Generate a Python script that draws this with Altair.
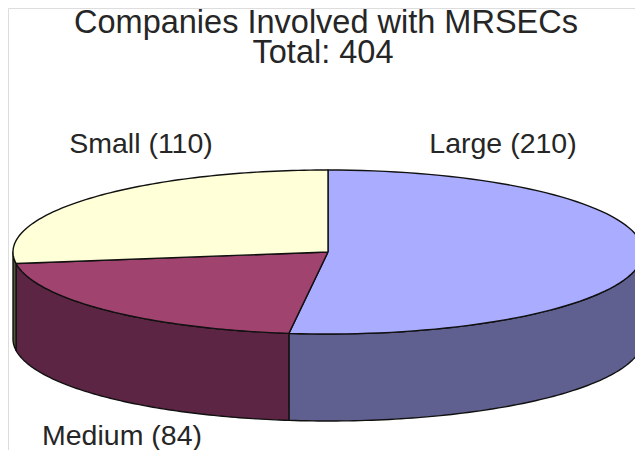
import altair as alt
import pandas as pd

# ---- data ----
categories = ["Large", "Medium", "Small"]
counts = [210, 84, 110]
labels = ["Large (210)", "Medium (84)", "Small (110)"]
title_lines = ["Companies Involved with MRSECs", "Total: 404"]

top_colors = ["#A9ACFF", "#A0446F", "#FFFFD8"]
side_colors = ["#606090", "#5C2543", "#55553A"]

# ---- layout constants (pixels) ----
W, H = 627, 442
CX, CY = 320, 244      # centre of top ellipse
RX, RY = 315, 82       # radii of top ellipse
DEPTH = 87             # thickness of the pie
N = 90                 # points per arc

df = pd.DataFrame({"cat": categories, "value": counts, "order": list(range(len(categories)))})

xs = alt.Scale(domain=[0, W], range=[0, W], nice=False, zero=False)
ys = alt.Scale(domain=[0, H], range=[0, H], nice=False, zero=False)

face_domain = [c + " top" for c in categories] + [c + " side" for c in categories]
face_range = top_colors + side_colors
fill_scale = alt.Scale(domain=face_domain, range=face_range)

base = (
    alt.Chart(df)
    .transform_joinaggregate(total="sum(value)")
    .transform_window(cum="sum(value)", sort=[alt.SortField("order")], frame=[None, 0])
    .transform_calculate(
        a0="PI/2 - 2*PI*(datum.cum - datum.value)/datum.total",
        a1="PI/2 - 2*PI*datum.cum/datum.total",
    )
)

# visible side walls (front half: angles between -PI and 0)
sides = (
    base.transform_calculate(
        s_hi="min(datum.a0, 0)",
        s_lo="max(datum.a1, -PI)",
    )
    .transform_filter("datum.s_hi > datum.s_lo")
    .transform_calculate(k=f"sequence(0, {2 * N + 3})")
    .transform_flatten(["k"])
    .transform_calculate(
        kk=f"datum.k == {2 * N + 2} ? 0 : datum.k",
    )
    .transform_calculate(
        t=f"datum.kk <= {N} ? datum.kk/{N} : ({2 * N + 1} - datum.kk)/{N}",
        dy=f"datum.kk <= {N} ? 0 : {DEPTH}",
    )
    .transform_calculate(
        ang="datum.s_hi + (datum.s_lo - datum.s_hi)*datum.t",
    )
    .transform_calculate(
        px=f"{CX} + {RX}*cos(datum.ang)",
        py=f"{CY} - {RY}*sin(datum.ang) + datum.dy",
        face="datum.cat + ' side'",
    )
    .mark_line(stroke="#111111", strokeWidth=1.4, interpolate="linear", strokeJoin="round")
    .encode(
        x=alt.X("px:Q", scale=xs, axis=None),
        y=alt.Y("py:Q", scale=ys, axis=None),
        fill=alt.Fill("face:N", scale=fill_scale, legend=None),
        detail="cat:N",
        order=alt.Order("k:Q"),
    )
)

# top faces
tops = (
    base.transform_calculate(k=f"sequence(0, {N + 3})")
    .transform_flatten(["k"])
    .transform_calculate(
        t=f"(datum.k - 1)/{N}",
    )
    .transform_calculate(
        ang="datum.a0 + (datum.a1 - datum.a0)*datum.t",
    )
    .transform_calculate(
        px=f"(datum.k == 0 || datum.k == {N + 2}) ? {CX} : {CX} + {RX}*cos(datum.ang)",
        py=f"(datum.k == 0 || datum.k == {N + 2}) ? {CY} : {CY} - {RY}*sin(datum.ang)",
        face="datum.cat + ' top'",
    )
    .mark_line(stroke="#111111", strokeWidth=1.4, interpolate="linear", strokeJoin="round")
    .encode(
        x=alt.X("px:Q", scale=xs, axis=None),
        y=alt.Y("py:Q", scale=ys, axis=None),
        fill=alt.Fill("face:N", scale=fill_scale, legend=None),
        detail="cat:N",
        order=alt.Order("k:Q"),
    )
)

FONT = "Liberation Sans"
TXT = "#262626"

def text_at(s, x, y, size):
    return (
        alt.Chart(pd.DataFrame({"s": [s]}))
        .mark_text(font=FONT, fontSize=size, color=TXT, align="center", baseline="alphabetic")
        .encode(text="s:N", x=alt.value(x), y=alt.value(y))
    )

texts = [
    text_at(title_lines[0], 318, 25, 32.5),
    text_at(title_lines[1], 315, 55, 32.5),
    text_at(labels[0], 495, 145, 28.5),
    text_at(labels[2], 133, 145, 28.5),
    text_at(labels[1], 114, 437, 28.5),
]

chart = (
    alt.layer(sides, tops, *texts)
    .properties(width=W, height=H, padding=0, autosize=alt.AutoSizeParams(type="none"))
    .configure_view(stroke=None)
    .configure(background="white")
)

chart.save("out.html", embed_options={"renderer": "svg", "actions": False})
